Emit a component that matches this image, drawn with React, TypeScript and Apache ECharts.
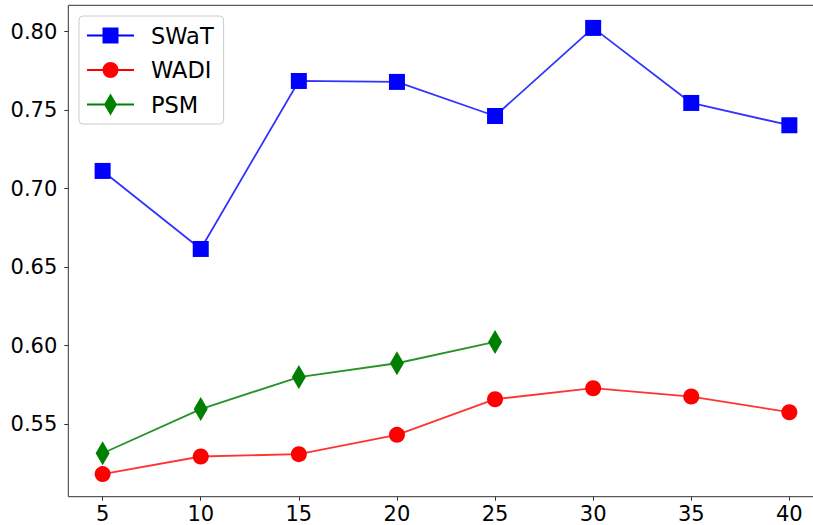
import React, { useEffect, useRef } from "react";
import * as echarts from "echarts";

// Window sizes on the horizontal axis
const windowSizes = [5, 10, 15, 20, 25, 30, 35, 40];
const psmWindowSizes = [5, 10, 15, 20, 25];

// Scores per dataset
const swatScores = [0.7113, 0.6616, 0.7686, 0.768, 0.7463, 0.8024, 0.7546, 0.7404];
const wadiScores = [0.5182, 0.5294, 0.5309, 0.5432, 0.5659, 0.5729, 0.5676, 0.5576];
const psmScores = [0.5315, 0.5596, 0.58, 0.5888, 0.6024];

// Tick labels
const xTicks = [5, 10, 15, 20, 25, 30, 35, 40];
const yTicks = [0.55, 0.6, 0.65, 0.7, 0.75, 0.8];

const FONT = "DejaVu Sans";

// Legend icons: a short line with the series marker on it
const iconSquare =
  "path://M0,7L47,7L47,9L0,9Z M15.5,0L31.5,0L31.5,16L15.5,16Z";
const iconCircle =
  "path://M0,7L47,7L47,9L0,9Z M31.5,8A8,8 0 1,1 15.5,8A8,8 0 1,1 31.5,8Z";
const iconDiamond =
  "path://M0,10L47,10L47,12L0,12Z M23.5,0L30,11L23.5,22L17,11Z";

const pairs = (xs: number[], ys: number[]) => xs.map((x, i) => [x, ys[i]]);

export default function App() {
  const ref = useRef<HTMLDivElement>(null);

  useEffect(() => {
    if (!ref.current) return;
    const chart = echarts.init(ref.current, undefined, { renderer: "svg" });
    chart.setOption({
      animation: false,
      backgroundColor: "#ffffff",
      grid: {
        left: 68.3,
        top: 5.3,
        right: -10.7,
        bottom: 28.3,
        show: true,
        borderColor: "#333333",
        borderWidth: 1,
        containLabel: false,
        outerBoundsMode: "none",
      },
      xAxis: {
        type: "value",
        min: 3.25,
        max: 41.75,
        axisLine: { show: false },
        splitLine: { show: false },
        axisTick: {
          show: true,
          length: 4,
          lineStyle: { color: "#333333" },
          customValues: xTicks,
        },
        axisLabel: {
          customValues: xTicks,
          fontFamily: FONT,
          fontSize: 21,
          lineHeight: 16,
          color: "#000000",
          margin: 9.5,
        },
      },
      yAxis: {
        type: "value",
        min: 0.5038,
        max: 0.8168,
        axisLine: { show: false },
        splitLine: { show: false },
        axisTick: {
          show: true,
          length: 4,
          lineStyle: { color: "#333333" },
          customValues: yTicks,
        },
        axisLabel: {
          customValues: yTicks,
          fontFamily: FONT,
          fontSize: 21,
          color: "#000000",
          margin: 11,
          formatter: (v: number) => v.toFixed(2),
        },
      },
      legend: {
        left: 79,
        top: 16,
        orient: "vertical",
        itemWidth: 47,
        itemHeight: 22,
        itemGap: 11.5,
        padding: [8, 10, 8, 8],
        backgroundColor: "rgba(255,255,255,0.8)",
        borderColor: "#cccccc",
        borderWidth: 1,
        borderRadius: 4,
        symbolKeepAspect: true,
        textStyle: {
          fontFamily: FONT,
          fontSize: 22.5,
          color: "#000000",
          lineHeight: 22,
          padding: [0, 0, 0, 12],
        },
        data: [
          { name: "SWaT", icon: iconSquare },
          { name: "WADI", icon: iconCircle },
          { name: "PSM", icon: iconDiamond },
        ],
      },
      series: [
        {
          name: "SWaT",
          type: "line",
          data: pairs(windowSizes, swatScores),
          symbol: "rect",
          symbolSize: 16,
          itemStyle: { color: "#0000ff" },
          lineStyle: { color: "#0000ff", width: 1.8, opacity: 0.8 },
        },
        {
          name: "WADI",
          type: "line",
          data: pairs(windowSizes, wadiScores),
          symbol: "circle",
          symbolSize: 16,
          itemStyle: { color: "#ff0000" },
          lineStyle: { color: "#ff0000", width: 1.8, opacity: 0.8 },
        },
        {
          name: "PSM",
          type: "line",
          data: pairs(psmWindowSizes, psmScores),
          symbol: "diamond",
          symbolSize: [14, 24],
          itemStyle: { color: "#008000" },
          lineStyle: { color: "#008000", width: 1.8, opacity: 0.85 },
        },
      ],
    });
    return () => chart.dispose();
  }, []);

  return (
    <div
      ref={ref}
      style={{ position: "fixed", left: 0, top: 0, width: 813, height: 525 }}
    />
  );
}
